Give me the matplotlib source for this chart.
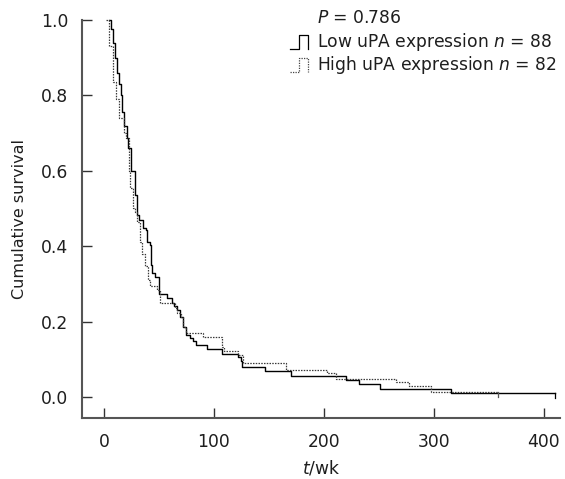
import matplotlib
matplotlib.use("Agg")
import matplotlib.pyplot as plt

# Low uPA expression (solid) - event times (wk) and survival after event
low_t = [4.8, 6, 8, 10, 12, 14, 15.2, 16, 18.2, 20.6, 22, 25, 28, 30, 32, 35.7, 38, 39.4, 42,
         43, 44, 46.4, 50.3, 57, 61.5, 64, 66, 69, 72, 74.5, 78, 81, 84, 94, 107, 122, 125,
         126, 146.4, 170, 220, 232, 251.5, 315.5, 410]
low_s = [1.0, 0.977, 0.94, 0.90, 0.86, 0.83, 0.80, 0.757, 0.72, 0.686, 0.66, 0.60, 0.536, 0.483,
         0.47, 0.447, 0.443, 0.41, 0.403, 0.35, 0.33, 0.319, 0.272, 0.262, 0.249, 0.24, 0.23,
         0.213, 0.186, 0.164, 0.155, 0.147, 0.138, 0.127, 0.113, 0.107, 0.094, 0.080, 0.068,
         0.0565, 0.046, 0.0345, 0.021, 0.0098, 0.0098]

# High uPA expression (dotted)
high_t = [2.0, 5, 8.5, 11, 14, 18, 20, 23, 24, 26.6, 28, 29.6, 32.7, 35, 37, 40, 42, 48, 51,
          64.5, 66.7, 69.7, 72, 75, 90.3, 107, 109, 122, 126.6, 165.5, 203, 211, 266, 278,
          298, 358.5]
high_s = [1.0, 0.93, 0.836, 0.79, 0.74, 0.70, 0.686, 0.60, 0.553, 0.50, 0.49, 0.465, 0.412,
          0.38, 0.346, 0.31, 0.294, 0.284, 0.249, 0.235, 0.222, 0.213, 0.186, 0.169, 0.16,
          0.133, 0.123, 0.111, 0.089, 0.072, 0.063, 0.047, 0.039, 0.029, 0.0125, 0.0125]

x_ticks = [0, 100, 200, 300, 400]
y_ticks = [0.0, 0.2, 0.4, 0.6, 0.8, 1.0]
p_text = "$\\mathit{P}$ = 0.786"
low_label = "Low uPA expression $\\mathit{n}$ = 88"
high_label = "High uPA expression $\\mathit{n}$ = 82"

plt.rcParams['font.family'] = ['DejaVu Sans']
plt.rcParams['mathtext.fontset'] = 'dejavusans'

FS = 12.3
TC = '#1e1e1e'

fig = plt.figure(figsize=(5.65, 4.79), dpi=100)
ax = fig.add_axes([82/565, 1-418/479, 478/565, 398/479])

ax.step(low_t, low_s, where='post', color='black', lw=1.0, clip_on=False)
ax.step(high_t, high_s, where='post', color='#3a3a3a', lw=0.9,
        linestyle=(0, (1.2, 1.0)), clip_on=False)
# censor ticks at ends
ax.plot([low_t[-1], low_t[-1]], [low_s[-1], low_s[-1] - 0.012], color='black', lw=0.9)
ax.plot([high_t[-1], high_t[-1]], [high_s[-1], high_s[-1] - 0.012], color='#555555', lw=0.9)

ax.set_xlim(-20, 415)
ax.set_ylim(-0.056, 1.0)
ax.set_xticks(x_ticks)
ax.set_yticks(y_ticks)
ax.set_yticklabels([f"{v:.1f}" for v in y_ticks])
for s in ['top', 'right']:
    ax.spines[s].set_visible(False)
for s in ['left', 'bottom']:
    ax.spines[s].set_color('#555555')
    ax.spines[s].set_linewidth(1.5)
ax.tick_params(direction='in', length=7, width=1.0, color='#333333',
               labelsize=FS, labelcolor=TC)
ax.tick_params(axis='y', pad=10)
ax.tick_params(axis='x', pad=11)
ax.set_xlabel("$\\mathit{t}$/wk", fontsize=FS, color=TC, labelpad=5)
ax.set_ylabel("Cumulative survival", fontsize=11.5, color=TC, labelpad=10)

# legend
tr = ax.transAxes
x0, x1, x2 = 0.435, 0.453, 0.473
for (b, t, ls, col) in [(0.928, 0.962, '-', 'black'), (0.870, 0.904, (0, (1.0, 1.0)), '#444444')]:
    ax.plot([x0, x1, x1, x2, x2], [b, b, t, t, b], transform=tr, color=col, lw=0.9,
            linestyle=ls, clip_on=False)
ax.text(0.492, 1.004, p_text, transform=tr, fontsize=FS, va='center', ha='left', color=TC)
ax.text(0.492, 0.945, low_label, transform=tr, fontsize=FS, va='center', ha='left', color=TC)
ax.text(0.492, 0.887, high_label, transform=tr, fontsize=FS, va='center', ha='left', color=TC)

fig.savefig("out.png", dpi=100)
